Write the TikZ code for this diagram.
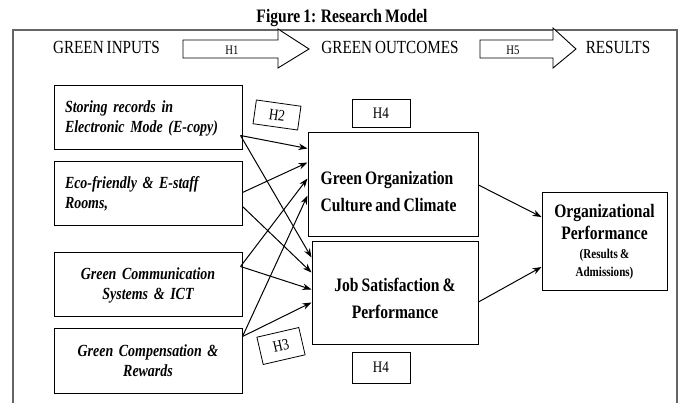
\documentclass[tikz,border=0pt]{standalone}
\usepackage{fontspec}
\setmainfont{Liberation Serif}[FakeStretch=0.82,WordSpace=0.8]
\usetikzlibrary{calc,arrows.meta}
\newcommand\fsz[2]{\fontsize{#1}{#2}\selectfont}
\begin{document}
\begin{tikzpicture}[x=1pt,y=1pt,
  frameline/.style={draw=black!60, line width=1.3pt},
  bigarrow/.style={draw, line width=0.9pt, fill=white, line join=miter},
  hdr/.style={anchor=base, font=\fsz{18.5}{22}},
  inbox/.style={draw, line width=1pt, minimum height=64pt, inner xsep=11pt, text width=166pt, font=\bfseries\itshape\fsz{17}{20}},
  midbox/.style={draw, line width=1pt},
  midtext/.style={inner sep=0pt, font=\bfseries\fsz{19}{27}},
  hbox/.style={draw, line width=0.8pt, inner sep=0pt, font=\fsz{16}{18}},
  link/.style={-{Stealth[length=9pt,width=6.5pt]}, line width=1pt}
]
\useasboundingbox (0,0) rectangle (683,-403);
\node[anchor=base, font=\bfseries\fsz{19}{22}] (title) at (342,-23) {Figure 1: Research Model};
\draw[frameline] (13,-403) -- (13,-30) -- (677,-30) -- (677,-403);

\node[hdr] (gin) at (106.5,-54) {GREEN INPUTS};
\node[hdr] (gout) at (390,-54) {GREEN OUTCOMES};
\node[hdr] (res) at (618,-54) {RESULTS};

\draw[bigarrow] (183,-40) -- (278,-40) -- (278,-29) -- (309,-49) -- (278,-68) -- (278,-58) -- (183,-58) -- cycle;
\node[font=\fsz{13}{15}] (h1) at (232,-50) {H1};
\draw[bigarrow] (480,-40) -- (553,-40) -- (553,-28) -- (576,-49) -- (553,-68) -- (553,-58) -- (480,-58) -- cycle;
\node[font=\fsz{13}{15}] (h5) at (513,-50) {H5};

\node[inbox, align=left] (b1) at (148,-118) {Storing records in\\Electronic Mode (E-copy)\\[3pt]};
\node[inbox, align=left] (b2) at (148,-194) {Eco-friendly \& E-staff\\Rooms,\\[2pt]};
\node[inbox, align=center] (b3) at (148,-285) {Green Communication\\Systems \& ICT};
\node[inbox, align=center] (b4) at (148,-361) {Green Compensation \&\\Rewards\\[3pt]};

\node[midbox, minimum width=170pt, minimum height=104pt] (goc) at (393,-185) {};
\node[midtext, anchor=west, align=left] (goct) at ($(goc.west)+(13,-7)$) {Green Organization\\Culture and Climate};
\node[midbox, minimum width=166pt, minimum height=103pt] (jsp) at (395,-293.5) {};
\node[midtext, align=center] (jspt) at ($(jsp.center)+(0,-5)$) {Job Satisfaction \&\\Performance};

\node[draw, line width=1pt, minimum width=125pt, minimum height=98pt, align=center, font=\bfseries\fsz{19}{22}] (op) at (604.5,-242)
  {Organizational\\Performance\\[-3pt]{\fsz{13.5}{18}(Results \&}\\[-4pt]{\fsz{13.5}{18}Admissions)}};

\node[hbox, minimum width=58pt, minimum height=28pt] (h4a) at (381,-113) {H4};
\node[hbox, minimum width=58pt, minimum height=31pt] (h4b) at (381,-367.5) {H4};
\node[hbox, minimum width=45pt, minimum height=24pt, rotate=-8] (h2) at (277,-115) {H2};
\node[hbox, minimum width=43pt, minimum height=28pt, rotate=13] (h3) at (281,-346) {H3};

\draw[link] ($(b1.north east)+(-2,-50)$) -- ($(goc.north west)+(0,-16)$);
\draw[link] ($(b1.north east)+(-2,-50)$) -- ($(jsp.north west)+(0,-16)$);
\draw[link] ($(b2.north east)+(0,-31)$) -- ($(goc.north west)+(0,-30)$);
\draw[link] ($(b2.north east)+(0,-45)$) -- ($(jsp.north west)+(0,-31)$);
\draw[link] ($(b3.north east)+(-2,-14)$) -- ($(goc.north west)+(0,-46)$);
\draw[link] ($(b3.north east)+(-2,-14)$) -- ($(jsp.north west)+(0,-48)$);
\draw[link] ($(b4.north east)+(0,-8)$) -- ($(goc.north west)+(0,-63)$);
\draw[link] ($(b4.north east)+(0,-8)$) -- ($(jsp.north west)+(0,-61)$);

\draw[link] (goc.east) -- ($(op.west)+(0,25)$);
\draw[link] ($(jsp.east)+(0,-8.5)$) -- ($(op.west)+(0,-25)$);
\end{tikzpicture}
\end{document}
